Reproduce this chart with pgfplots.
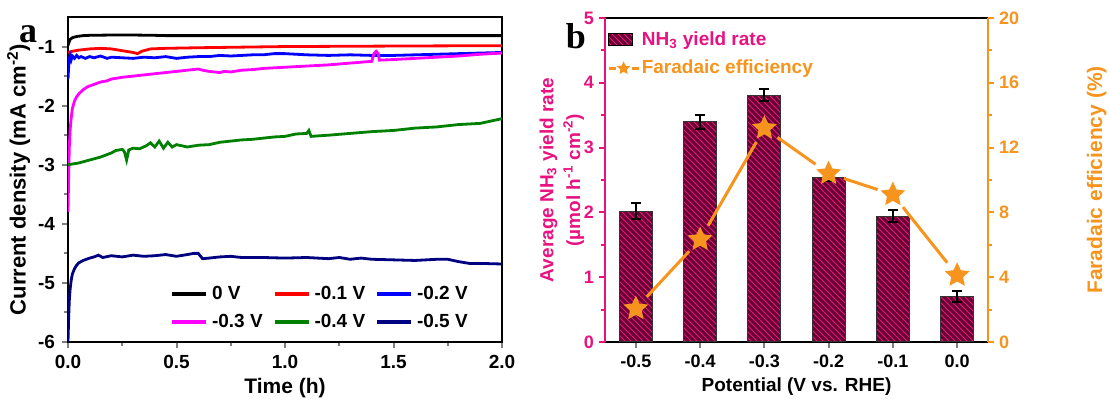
\documentclass[border=0pt]{standalone}
\usepackage{fontspec}
\setmainfont{Liberation Sans}
\newfontfamily\serifb{Liberation Serif}
\usepackage{pgfplots}
\pgfplotsset{compat=1.18}
\usetikzlibrary{patterns}

\definecolor{cblack}{RGB}{0,0,0}
\definecolor{cred}{RGB}{255,0,0}
\definecolor{cblue}{RGB}{0,0,255}
\definecolor{cmag}{RGB}{255,0,255}
\definecolor{cgreen}{RGB}{0,128,0}
\definecolor{cnavy}{RGB}{0,0,128}
\definecolor{pinkax}{RGB}{232,18,128}
\definecolor{orangeax}{RGB}{247,148,30}
\definecolor{barbase}{RGB}{105,0,50}
\definecolor{barline}{RGB}{225,25,125}

\pgfdeclareplotmark{fstar}{%
  \pgfpathmoveto{\pgfpointpolar{90}{\pgfplotmarksize}}%
  \pgfpathlineto{\pgfpointpolar{126}{0.48\pgfplotmarksize}}%
  \pgfpathlineto{\pgfpointpolar{162}{\pgfplotmarksize}}%
  \pgfpathlineto{\pgfpointpolar{198}{0.48\pgfplotmarksize}}%
  \pgfpathlineto{\pgfpointpolar{234}{\pgfplotmarksize}}%
  \pgfpathlineto{\pgfpointpolar{270}{0.48\pgfplotmarksize}}%
  \pgfpathlineto{\pgfpointpolar{306}{\pgfplotmarksize}}%
  \pgfpathlineto{\pgfpointpolar{342}{0.48\pgfplotmarksize}}%
  \pgfpathlineto{\pgfpointpolar{18}{\pgfplotmarksize}}%
  \pgfpathlineto{\pgfpointpolar{54}{0.48\pgfplotmarksize}}%
  \pgfpathclose
  \pgfusepathqfill}

\pgfplotsset{
  every axis/.append style={
    scale only axis,
    /pgf/number format/assume math mode=true,
    axis line style={line width=1.4pt},
    tick style={line width=1pt},
    major tick length=3pt, minor tick length=2pt,
    tick align=outside,
  },
  fe seg/.style={orangeax, line width=1.5pt, shorten <=8pt, shorten >=8pt, forget plot},
}

\begin{document}
\begin{tikzpicture}
\path[use as bounding box] (0,0) rectangle (554.5pt,-200pt);

% ---- panel a ----
\begin{axis}[
  at={(34pt,-171pt)}, anchor=south west,
  width=217pt, height=162.5pt,
  xmin=0, xmax=2, ymin=-6, ymax=-0.5,
  xtick={0,0.5,...,2}, ytick={-6,-5,...,-1},
  minor x tick num=1, minor y tick num=1,
  xtick pos=bottom, ytick pos=left,
  tick label style={font=\fontsize{9.5}{10}\selectfont\bfseries},
  xticklabel style={/pgf/number format/.cd,fixed,fixed zerofill,precision=1},
  xlabel={Time (h)},
  ylabel={Current density (mA cm\textsuperscript{-2})},
  xlabel style={font=\fontsize{10.5}{11}\selectfont\bfseries, yshift=2pt},
  ylabel style={font=\fontsize{11}{12}\selectfont\bfseries, yshift=-3pt},
  legend columns=3, legend cell align=left,
  legend style={draw=none, fill=none, at={(0.945,0.01)}, anchor=south east,
    font=\fontsize{9.5}{10}\selectfont\bfseries,
    /tikz/every even column/.append style={column sep=3pt},
    row sep=2pt},
  legend image code/.code={\draw[#1, line width=1.9pt] (0pt,0pt) -- (17pt,0pt);},
  every axis plot/.append style={line width=1.4pt},
]
\addplot[cblack] coordinates {(0,-0.98)(0.005,-0.92)(0.01,-0.88)(0.02,-0.85)(0.04,-0.83)(0.07,-0.815)(0.1,-0.81)(0.2,-0.805)(0.3,-0.805)(0.4,-0.81)(0.45,-0.815)(0.6,-0.815)(1.0,-0.815)(1.5,-0.815)(2.0,-0.815)};
\addlegendentry{0 V}
\addplot[cred] coordinates {(0,-1.10)(0.02,-1.08)(0.05,-1.06)(0.1,-1.04)(0.15,-1.03)(0.2,-1.04)(0.25,-1.07)(0.3,-1.10)(0.32,-1.12)(0.34,-1.08)(0.38,-1.04)(0.45,-1.03)(0.6,-1.02)(0.8,-1.01)(1.0,-1.0)(1.3,-0.995)(1.6,-0.99)(2.0,-0.985)};
\addlegendentry{-0.1 V}
\addplot[cblue] coordinates {(0,-1.55)(0.003,-1.35)(0.006,-1.2)(0.01,-1.15)(0.015,-1.22)(0.02,-1.16)(0.03,-1.2)(0.04,-1.15)(0.05,-1.19)(0.06,-1.17)(0.08,-1.2)(0.1,-1.17)(0.12,-1.19)(0.15,-1.16)(0.18,-1.2)(0.2,-1.18)(0.25,-1.19)(0.3,-1.2)(0.35,-1.18)(0.4,-1.19)(0.45,-1.17)(0.5,-1.2)(0.55,-1.18)(0.6,-1.17)(0.65,-1.17)(0.7,-1.15)(0.75,-1.16)(0.8,-1.15)(0.85,-1.14)(0.9,-1.14)(0.95,-1.12)(1.0,-1.12)(1.05,-1.13)(1.1,-1.14)(1.2,-1.15)(1.3,-1.14)(1.4,-1.15)(1.5,-1.15)(1.6,-1.14)(1.7,-1.13)(1.8,-1.12)(1.9,-1.11)(2.0,-1.10)};
\addlegendentry{-0.2 V}
\addplot[cmag] coordinates {(0,-3.8)(0.003,-3.2)(0.006,-2.7)(0.01,-2.4)(0.015,-2.2)(0.02,-2.05)(0.03,-1.92)(0.04,-1.85)(0.05,-1.8)(0.07,-1.73)(0.09,-1.68)(0.12,-1.64)(0.15,-1.6)(0.18,-1.58)(0.2,-1.55)(0.25,-1.52)(0.3,-1.5)(0.35,-1.48)(0.4,-1.46)(0.45,-1.44)(0.5,-1.42)(0.55,-1.40)(0.6,-1.38)(0.62,-1.40)(0.65,-1.42)(0.7,-1.44)(0.72,-1.42)(0.75,-1.43)(0.8,-1.40)(0.85,-1.39)(0.9,-1.37)(1.0,-1.35)(1.1,-1.33)(1.2,-1.31)(1.3,-1.28)(1.4,-1.25)(1.41,-1.12)(1.42,-1.08)(1.43,-1.12)(1.435,-1.23)(1.5,-1.22)(1.6,-1.2)(1.7,-1.18)(1.8,-1.16)(1.9,-1.13)(2.0,-1.11)};
\addlegendentry{-0.3 V}
\addplot[cgreen] coordinates {(0,-3.0)(0.05,-2.97)(0.1,-2.92)(0.15,-2.87)(0.2,-2.8)(0.22,-2.76)(0.25,-2.74)(0.26,-2.78)(0.27,-2.92)(0.28,-2.75)(0.3,-2.72)(0.33,-2.73)(0.36,-2.68)(0.38,-2.63)(0.4,-2.7)(0.42,-2.6)(0.44,-2.72)(0.46,-2.62)(0.48,-2.7)(0.5,-2.66)(0.55,-2.7)(0.6,-2.67)(0.65,-2.66)(0.7,-2.62)(0.75,-2.6)(0.8,-2.58)(0.85,-2.57)(0.9,-2.55)(0.95,-2.53)(1.0,-2.52)(1.05,-2.48)(1.1,-2.47)(1.11,-2.42)(1.12,-2.52)(1.2,-2.5)(1.3,-2.47)(1.4,-2.44)(1.5,-2.42)(1.6,-2.38)(1.7,-2.36)(1.8,-2.32)(1.9,-2.3)(1.95,-2.26)(2.0,-2.22)};
\addlegendentry{-0.4 V}
\addplot[cnavy] coordinates {(0,-6.0)(0.003,-5.6)(0.006,-5.3)(0.01,-5.1)(0.015,-4.95)(0.02,-4.85)(0.03,-4.76)(0.04,-4.7)(0.05,-4.66)(0.07,-4.62)(0.1,-4.58)(0.12,-4.56)(0.14,-4.53)(0.16,-4.57)(0.2,-4.54)(0.25,-4.56)(0.3,-4.53)(0.35,-4.55)(0.4,-4.54)(0.45,-4.52)(0.5,-4.55)(0.55,-4.52)(0.58,-4.5)(0.6,-4.5)(0.62,-4.59)(0.65,-4.58)(0.7,-4.56)(0.75,-4.55)(0.8,-4.57)(0.9,-4.57)(1.0,-4.58)(1.1,-4.57)(1.2,-4.59)(1.25,-4.57)(1.3,-4.6)(1.35,-4.58)(1.4,-4.6)(1.5,-4.61)(1.6,-4.62)(1.7,-4.6)(1.75,-4.6)(1.8,-4.64)(1.85,-4.67)(1.9,-4.67)(2.0,-4.68)};
\addlegendentry{-0.5 V}
\end{axis}

% ---- panel b: bars ----
\begin{axis}[
  at={(302.5pt,-171pt)}, anchor=south west,
  width=191.5pt, height=162pt,
  xmin=-0.48, xmax=5.48, ymin=0, ymax=5,
  xtick={0,...,5}, xticklabels={-0.5,-0.4,-0.3,-0.2,-0.1,0.0},
  ytick={0,...,5}, minor y tick num=1,
  xtick pos=bottom, ytick pos=left,
  separate axis lines,
  x axis line style={black},
  y axis line style={pinkax},
  ytick style={pinkax}, yticklabel style={pinkax, xshift=1pt},
  tick label style={font=\fontsize{9}{10}\selectfont\bfseries},
  xlabel={Potential (V vs. RHE)},
  ylabel={\shortstack{Average NH\textsubscript{3} yield rate\\(µmol h\textsuperscript{-1} cm\textsuperscript{-2})}},
  label style={font=\fontsize{9.5}{11}\selectfont\bfseries},
  ylabel style={pinkax, yshift=-7pt},
  xlabel style={yshift=2pt},
]
\addplot[ybar, bar width=16.5pt, fill=barbase, draw=black!80, line width=0.5pt,
  postaction={pattern=north west lines, pattern color=barline},
  error bars/.cd, y dir=both, y explicit,
  error bar style={line width=1pt, black},
  error mark options={rotate=90, mark size=2.5pt, line width=1pt, black}]
  coordinates {
  (0,2.02) +- (0,0.12)
  (1,3.40) +- (0,0.11)
  (2,3.81) +- (0,0.09)
  (3,2.54) +- (0,0.05)
  (4,1.94) +- (0,0.09)
  (5,0.70) +- (0,0.08)
};
\end{axis}

% ---- panel b: faradaic efficiency ----
\begin{axis}[
  at={(302.5pt,-171pt)}, anchor=south west,
  width=191.5pt, height=162pt,
  xmin=-0.48, xmax=5.48, ymin=0, ymax=20,
  axis x line=none, axis y line*=right,
  ytick={0,4,...,20}, minor y tick num=1,
  y axis line style={orangeax},
  ytick style={orangeax}, yticklabel style={orangeax, xshift=-1pt},
  tick label style={font=\fontsize{9}{10}\selectfont\bfseries},
  ylabel={Faradaic efficiency (\%)},
  label style={font=\fontsize{10.5}{11}\selectfont\bfseries},
  ylabel style={orangeax}, ylabel shift=27pt,
  legend cell align=left,
  legend style={draw=none, fill=none, at={(0.0,0.985)}, anchor=north west,
    font=\fontsize{9.5}{11}\selectfont\bfseries, row sep=2pt,
    inner xsep=1pt, nodes={inner xsep=1pt}},
]
\addlegendimage{legend image code/.code={
  \fill[barbase, draw=black!80] (0pt,-3pt) rectangle (12pt,3pt);
  \fill[pattern=north west lines, pattern color=barline] (0pt,-3pt) rectangle (12pt,3pt);}}
\addlegendentry{\textcolor{pinkax}{NH\textsubscript{3} yield rate}}
% line segments with gaps at the stars
\addplot[fe seg] coordinates {(0,2.06)(1,6.33)};
\addplot[fe seg] coordinates {(1,6.33)(2,13.2)};
\addplot[fe seg] coordinates {(2,13.2)(3,10.4)};
\addplot[fe seg] coordinates {(3,10.4)(4,9.1)};
\addplot[fe seg] coordinates {(4,9.1)(5,4.12)};
\addplot[orangeax, only marks, mark=fstar, mark size=6.5pt,
  mark options={fill=orangeax},
  legend image code/.code={
    \draw[orangeax, line width=1.2pt] (0pt,0pt) -- (3.5pt,0pt);
    \draw[orangeax, line width=1.2pt] (11.5pt,0pt) -- (15pt,0pt);
    \pgfplotsset{mark size=3.5pt}
    \draw[orangeax] plot[mark=fstar, mark options={fill=orangeax}] coordinates {(7.5pt,0pt)};}]
  coordinates {(0,2.06)(1,6.33)(2,13.2)(3,10.4)(4,9.1)(5,4.12)};
\addlegendentry{\textcolor{orangeax}{Faradaic efficiency}}
\end{axis}

\node[font=\serifb\fontsize{18}{18}\selectfont\bfseries] at (14pt,-17pt) {a};
\node[font=\serifb\fontsize{18}{18}\selectfont\bfseries] at (288pt,-18pt) {b};
\end{tikzpicture}
\end{document}
